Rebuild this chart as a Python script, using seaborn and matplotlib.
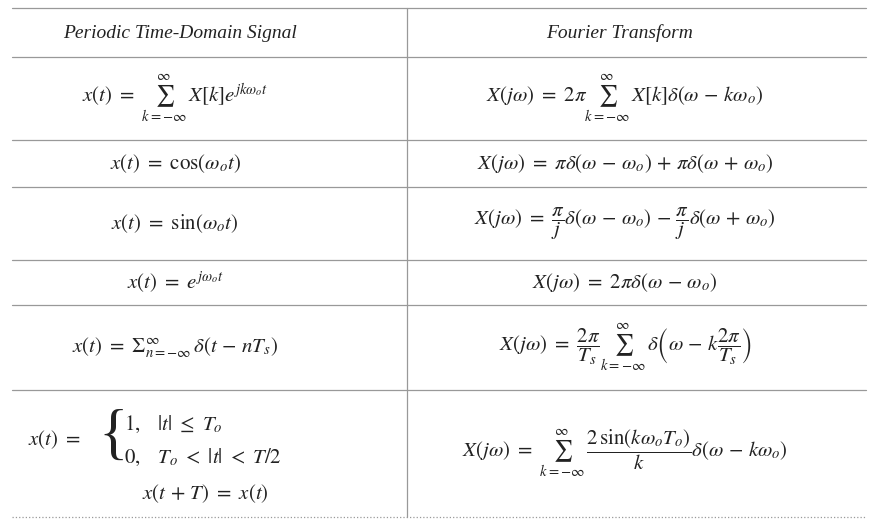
import matplotlib
matplotlib.use("Agg")
import matplotlib.pyplot as plt
import seaborn as sns

sns.set_style("white")
plt.rcParams['font.family'] = ['Liberation Serif', 'DejaVu Serif']
plt.rcParams['mathtext.fontset'] = 'stix'

headers = ["Periodic Time-Domain Signal", "Fourier Transform"]
left = [
    r"$x(t)\ =\ \sum_{k=-\infty}^{\infty}\, X[k]e^{jk\omega_o t}$",
    r"$x(t)\ =\ \cos(\omega_o t)$",
    r"$x(t)\ =\ \sin(\omega_o t)$",
    r"$x(t)\ =\ e^{j\omega_o t}$",
    r"$x(t)\ =\ \Sigma_{n=-\infty}^{\infty}\,\delta(t\,-\,nT_s)$",
    None,
]
right = [
    r"$X(j\omega)\ =\ 2\pi\sum_{k=-\infty}^{\infty}\, X[k]\delta(\omega\,-\,k\omega_o)$",
    r"$X(j\omega)\ =\ \pi\delta(\omega\,-\,\omega_o)\,+\,\pi\delta(\omega\,+\,\omega_o)$",
    r"$X(j\omega)\ =\ \dfrac{\pi}{j}\delta(\omega\,-\,\omega_o)\,-\,\dfrac{\pi}{j}\delta(\omega\,+\,\omega_o)$",
    r"$X(j\omega)\ =\ 2\pi\delta(\omega\,-\,\omega_o)$",
    r"$X(j\omega)\ =\ \dfrac{2\pi}{T_s}\sum_{k=-\infty}^{\infty}\,\delta\left(\omega\,-\,k\dfrac{2\pi}{T_s}\right)$",
    r"$X(j\omega)\ =\ \sum_{k=-\infty}^{\infty}\,\dfrac{2\,\sin(k\omega_o T_o)}{k}\delta(\omega\,-\,k\omega_o)$",
]
row_lines = [8, 57, 140, 187, 260, 305, 390, 517]

fig = plt.figure(figsize=(8.88, 5.24), dpi=100)
ax = fig.add_axes([0, 0, 1, 1])
ax.set_xlim(0, 888); ax.set_ylim(524, 0); ax.axis('off')

for i, y in enumerate(row_lines):
    ls = ':' if i == len(row_lines) - 1 else '-'
    ax.plot([12, 866], [y, y], color='#999999', lw=0.9, ls=ls)
ax.plot([407, 407], [8, 517], color='#999999', lw=0.9)

ax.text(180, 33, headers[0], ha='center', va='center', style='italic', fontsize=14, color='#222222')
ax.text(620, 33, headers[1], ha='center', va='center', style='italic', fontsize=14, color='#222222')

fs = 15
for i in range(6):
    yc = (row_lines[i + 1] + row_lines[i + 2]) / 2
    if left[i] is not None:
        ax.text(175, yc, left[i], ha='center', va='center', fontsize=fs, color='#222222')
    ax.text(625, yc, right[i], ha='center', va='center', fontsize=fs, color='#222222')

# piecewise row
ax.text(28, 440, r"$x(t)\ =$", ha='left', va='center', fontsize=fs, color='#222222')
ax.text(98, 438, "{", ha='left', va='center', fontsize=44, color='#222222')
ax.text(124, 424, r"$1,\ \ \ |t|\ \leq\ T_o$", ha='left', va='center', fontsize=fs, color='#222222')
ax.text(124, 457, r"$0,\ \ \ T_o\ <\ |t|\ <\ T/2$", ha='left', va='center', fontsize=fs, color='#222222')
ax.text(205, 494, r"$x(t\,+\,T)\ =\ x(t)$", ha='center', va='center', fontsize=fs, color='#222222')

fig.savefig("out.png", dpi=100, facecolor='white')
